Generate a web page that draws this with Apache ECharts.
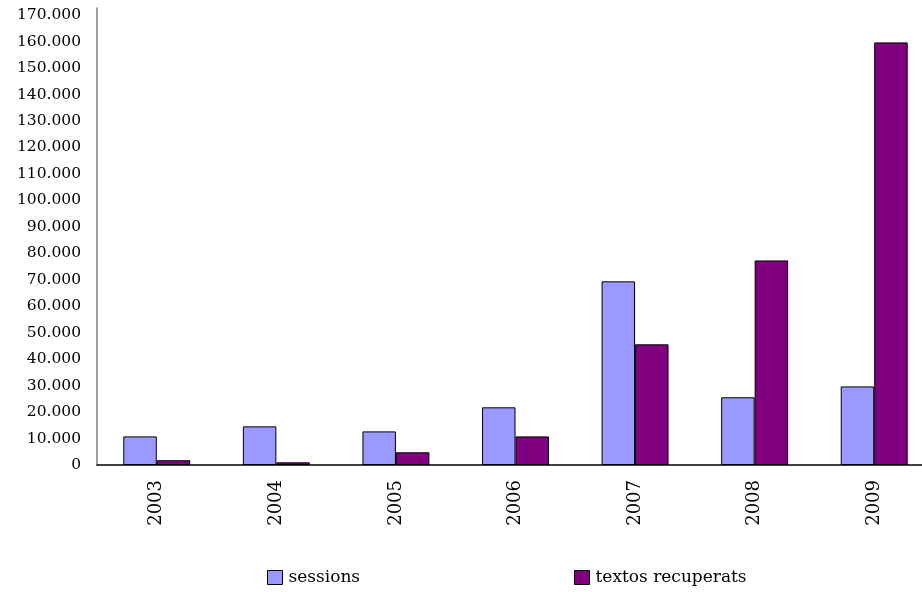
<!DOCTYPE html>
<html>
<head>
<meta charset="utf-8">
<script src="https://cdn.jsdelivr.net/npm/echarts@6/dist/echarts.min.js"></script>
<style>html,body{margin:0;padding:0;background:#fff;overflow:hidden}#c{width:934px;height:592px}</style>
</head>
<body>
<div id="c"></div>
<script>
const categories = ['2003', '2004', '2005', '2006', '2007', '2008', '2009'];
const sessions = [10800, 14600, 12700, 21800, 69400, 25600, 29700];
const textosRecuperats = [1800, 1000, 4800, 10800, 45600, 77300, 159700];
const seriesNames = ['sessions', 'textos recuperats'];

const FONT = 'DejaVu Serif';
function fmt(v) {
  if (v % 10000 !== 0) return '';
  return String(v).replace(/\B(?=(\d{3})+(?!\d))/g, '.');
}
const legendCommon = {
  top: 569, padding: 0, itemWidth: 15, itemHeight: 14, itemGap: 0, icon: 'rect',
  textStyle: {fontFamily: FONT, fontSize: 17, color: '#000', padding: [0, 0, 0, 1]},
  itemStyle: {borderColor: '#000', borderWidth: 1}
};
const chart = echarts.init(document.getElementById('c'), null, {renderer: 'canvas'});
chart.setOption({
  animation: false,
  backgroundColor: '#ffffff',
  textStyle: {fontFamily: FONT},
  grid: {left: 97, right: 0, top: 8, bottom: 127, containLabel: false},
  legend: [
    Object.assign({data: [seriesNames[0]], left: 267}, legendCommon),
    Object.assign({data: [seriesNames[1]], left: 574}, legendCommon)
  ],
  xAxis: {
    type: 'category',
    data: categories,
    axisLine: {lineStyle: {color: '#000', width: 1.5}},
    axisTick: {show: false},
    axisLabel: {rotate: 90, margin: 15, fontFamily: FONT, fontSize: 18, color: '#000'}
  },
  yAxis: {
    type: 'value',
    min: 0, max: 172700, interval: 10000,
    axisLine: {show: true, lineStyle: {color: '#808080', width: 1.5}},
    axisTick: {show: false},
    splitLine: {show: false},
    axisLabel: {margin: 16, fontFamily: FONT, fontSize: 15.5, color: '#000', formatter: fmt}
  },
  series: [
    {name: seriesNames[0], type: 'bar', data: sessions, barGap: '0%', barCategoryGap: '44%',
     itemStyle: {color: '#9999FF', borderColor: '#000', borderWidth: 1}},
    {name: seriesNames[1], type: 'bar', data: textosRecuperats, barGap: '0%', barCategoryGap: '44%',
     itemStyle: {color: '#800080', borderColor: '#000', borderWidth: 1}}
  ]
});
</script>
</body>
</html>
